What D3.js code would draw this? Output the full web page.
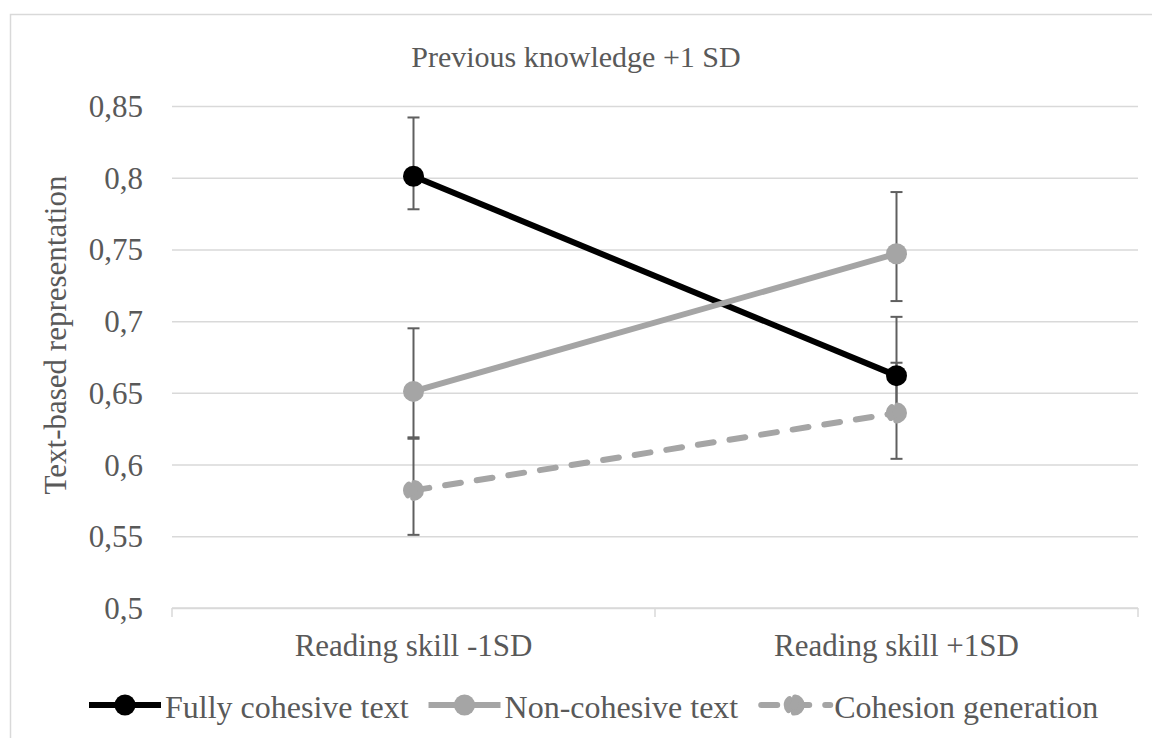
<!DOCTYPE html>
<html>
<head>
<meta charset="utf-8">
<script src="https://cdn.jsdelivr.net/npm/d3@7"></script>
<style>
  html, body { margin: 0; padding: 0; background: #fff; }
  svg { display: block; }
  svg text { font-family: 'Liberation Serif', Tinos, 'Times New Roman', Times, 'DejaVu Serif', serif; fill: #595959; }
</style>
</head>
<body>
<svg id="chart" width="1152" height="738"></svg>
<script>
// Category labels on the x axis
const categories = ["Reading skill -1SD", "Reading skill +1SD"];

// Series means
const fullyCohesive = [0.801, 0.662];
const nonCohesive = [0.651, 0.747];
const cohesionGeneration = [0.582, 0.636];

// Error bar extents (plus / minus)
const fullyPlus = [0.041, 0.041];
const fullyMinus = [0.023, 0.023];
const nonPlus = [0.044, 0.043];
const nonMinus = [0.032, 0.033];
const genPlus = [0.036, 0.035];
const genMinus = [0.031, 0.032];

// Y axis tick values
const yTicks = [0.5, 0.55, 0.6, 0.65, 0.7, 0.75, 0.8, 0.85];

const seriesNames = ["Fully cohesive text", "Non-cohesive text", "Cohesion generation"];

const series = [
  { name: seriesNames[0], values: fullyCohesive, plus: fullyPlus, minus: fullyMinus, color: "#000000", dash: null },
  { name: seriesNames[1], values: nonCohesive, plus: nonPlus, minus: nonMinus, color: "#a5a5a5", dash: null },
  { name: seriesNames[2], values: cohesionGeneration, plus: genPlus, minus: genMinus, color: "#a5a5a5", dash: "16 16" }
];

const FONT = "'Liberation Serif', Tinos, 'Times New Roman', Times, 'DejaVu Serif', serif";

const svg = d3.select("#chart");
const plot = { left: 172, right: 1138, top: 106, bottom: 608 };

const x = d3.scaleBand().domain(categories).range([plot.left, plot.right]);
const y = d3.scaleLinear().domain([0.5, 0.85]).range([plot.bottom, plot.top]);
const cx = c => x(c) + x.bandwidth() / 2;

const locale = d3.formatLocale({ decimal: ",", thousands: ".", grouping: [3], currency: ["", ""] });
const fmt = locale.format(".2~f");

// Chart frame
svg.append("rect").attr("x", 10.5).attr("y", 14.5).attr("width", 1160).attr("height", 760)
  .attr("fill", "#fff").attr("stroke", "#d9d9d9").attr("stroke-width", 1.5);

// Title
svg.append("text").attr("x", 576).attr("y", 67).attr("text-anchor", "middle")
  .attr("font-family", FONT).style("font-size", "30px").text("Previous knowledge +1 SD");

// Horizontal gridlines + y tick labels
const yAxis = d3.axisLeft(y).tickValues(yTicks).tickFormat(fmt)
  .tickSize(-(plot.right - plot.left)).tickPadding(29);
const gy = svg.append("g").attr("transform", `translate(${plot.left},0)`).call(yAxis)
  .attr("font-family", FONT);
gy.select(".domain").remove();
gy.selectAll(".tick line").attr("stroke", "#d9d9d9").attr("stroke-width", 1.5);
gy.selectAll(".tick text").style("font-size", "31px").attr("fill", "#595959").attr("dy", "0.34em");

// Category axis
const xAxis = d3.axisBottom(x).tickSize(0).tickPadding(0);
const gx = svg.append("g").attr("transform", `translate(0,${plot.bottom})`).call(xAxis)
  .attr("font-family", FONT);
gx.select(".domain").attr("stroke", "#d9d9d9").attr("stroke-width", 1.5)
  .attr("d", `M${plot.left},0H${plot.right}`);
gx.selectAll(".tick text").style("font-size", "31px").attr("fill", "#595959")
  .attr("y", 48).attr("dy", null);
// Boundary tick marks between categories
const bounds = [plot.left, (plot.left + plot.right) / 2, plot.right];
gx.selectAll("line.bound").data(bounds).enter().append("line").attr("class", "bound")
  .attr("x1", d => d).attr("x2", d => d).attr("y1", 0).attr("y2", 9)
  .attr("stroke", "#d9d9d9").attr("stroke-width", 1.5);

// Y axis title
svg.append("text").attr("transform", "translate(66,335) rotate(-90)")
  .attr("text-anchor", "middle").attr("font-family", FONT).style("font-size", "31px")
  .text("Text-based representation");

// Error bars
const eb = svg.append("g");
series.forEach(s => {
  categories.forEach((c, i) => {
    const px = cx(c);
    const yt = y(s.values[i] + s.plus[i]);
    const yb = y(s.values[i] - s.minus[i]);
    eb.append("line").attr("x1", px).attr("x2", px).attr("y1", yt).attr("y2", yb)
      .attr("stroke", "#5f5f5f").attr("stroke-width", 2);
    [yt, yb].forEach(v => eb.append("line").attr("x1", px - 6).attr("x2", px + 6)
      .attr("y1", v).attr("y2", v).attr("stroke", "#5f5f5f").attr("stroke-width", 2));
  });
});

// Series lines and markers
const line = d3.line().x((d, i) => cx(categories[i])).y(d => y(d));
function drawMarker(g, px, py, s) {
  if (s.dash) {
    g.append("circle").attr("cx", px).attr("cy", py).attr("r", 7.5).attr("fill", s.color)
      .attr("stroke", s.color).attr("stroke-width", 6)
      .attr("stroke-dasharray", "12 6").attr("stroke-linecap", "round");
  } else {
    g.append("circle").attr("cx", px).attr("cy", py).attr("r", 10.5).attr("fill", s.color);
  }
}
series.forEach(s => {
  const g = svg.append("g");
  g.append("path").datum(s.values).attr("d", line).attr("fill", "none")
    .attr("stroke", s.color).attr("stroke-width", 6)
    .attr("stroke-dasharray", s.dash).attr("stroke-linecap", s.dash ? "round" : "butt");
  s.values.forEach((v, i) => drawMarker(g, cx(categories[i]), y(v), s));
});

// Legend
const legend = svg.append("g").attr("font-family", FONT);
let lx = 89;
const ly = 705;
series.forEach(s => {
  const g = legend.append("g");
  g.append("line").attr("x1", lx + (s.dash ? 3 : 0)).attr("x2", lx + 72).attr("y1", ly).attr("y2", ly)
    .attr("stroke", s.color).attr("stroke-width", 6)
    .attr("stroke-dasharray", s.dash).attr("stroke-linecap", s.dash ? "round" : "butt");
  drawMarker(g, lx + 36, ly, s);
  const t = g.append("text").attr("x", lx + 76).attr("y", ly + 13).style("font-size", "32px").text(s.name);
  lx = lx + 76 + t.node().getComputedTextLength() + 20;
});
</script>
</body>
</html>
